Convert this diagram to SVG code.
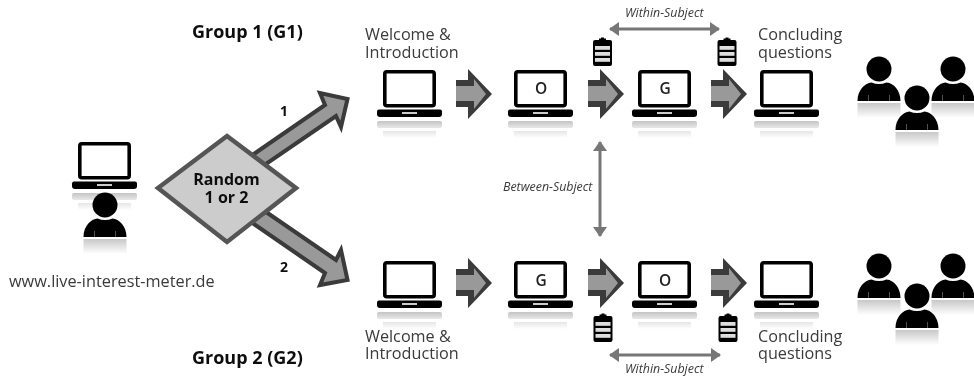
<svg xmlns="http://www.w3.org/2000/svg" xmlns:xlink="http://www.w3.org/1999/xlink" width="974" height="376" viewBox="0 0 974 376">
<style>
text{font-family:"Open Sans","DejaVu Sans",sans-serif;fill:#3a3a3a}
.lab{font-size:16.200px}
.grp{font-size:18px;font-weight:700;fill:#111}
.it{font-size:12.400px;font-style:italic}
.num{font-size:14px;font-weight:700;fill:#111}
.let{font-size:15.500px;font-weight:600;text-anchor:middle;fill:#222}
.rnd{font-size:16px;font-weight:700;text-anchor:middle;fill:#111}
.dbl{stroke:#777;stroke-width:3;fill:none;marker-start:url(#ah);marker-end:url(#ah)}
.big{fill:#999;stroke:#3a3a3a;stroke-width:4;stroke-miterlimit:6}
</style>
<defs>
<filter id="b" x="-2%" y="-2%" width="104%" height="104%"><feGaussianBlur stdDeviation="0.45"/></filter>
<marker id="ah" viewBox="0 0 10 14" refX="9" refY="7" markerWidth="10" markerHeight="14" markerUnits="userSpaceOnUse" orient="auto-start-reverse"><path d="M0 0L10 7L0 14Z" fill="#777"/></marker>
<linearGradient id="r1" x1="0" y1="0" x2="0" y2="1"><stop offset="0" stop-color="#c4c4c4"/><stop offset="1" stop-color="#e8e8e8"/></linearGradient>
<linearGradient id="r2" x1="0" y1="0" x2="0" y2="1"><stop offset="0" stop-color="#e6e6e6"/><stop offset="1" stop-color="#fff"/></linearGradient>
<linearGradient id="r3" x1="0" y1="0" x2="0" y2="1"><stop offset="0" stop-color="#c8c8c8"/><stop offset="1" stop-color="#fff"/></linearGradient>
<g id="laptop">
<rect x="7.800" y="1.800" width="49.400" height="33.900" fill="#fff" stroke="#000" stroke-width="3.600" rx="2"/>
<path d="M2 39.500H63Q65 39.500 65 41.500V44Q65 47 62 47H3Q0 47 0 44V41.500Q0 39.500 2 39.500Z" fill="#000"/>
<rect x="25" y="42" width="15" height="2" fill="#ccc"/>
<rect x="0" y="51" width="65" height="7" rx="2" fill="url(#r1)"/>
<rect x="6" y="61" width="53" height="7" fill="url(#r2)"/>
</g>
<g id="person">
<rect x="-21.500" y="34" width="43" height="15" fill="url(#r3)"/>
<circle cx="0" cy="0" r="12.500" fill="#000"/>
<path d="M-21.500 32C-21.500 21-14 14-7.500 13.500Q0 16.500 7.500 13.500C14 14 21.500 21 21.500 32Z" fill="#000"/>
<path d="M-10.500 26V32M10.500 26V32" stroke="#666" stroke-width="0.800"/>
</g>
<g id="arrow">
<path d="M0 11H12V0L36 25L12 50V38H0Z" fill="#3a3a3a"/>
<path d="M0 17H18V10L30 25L18 40V32H0Z" fill="#999"/>
</g>
<g id="clip">
<path d="M2.500 3H6.500V1.500H8.500V0.500H11.500V1.500H13.500V3H17.500Q19.500 3 19.500 5V27Q19.500 29 17.500 29H2.500Q0.500 29 0.500 27V5Q0.500 3 2.500 3Z" fill="#000"/>
<rect x="2.500" y="9" width="15" height="3.800" fill="#ddd"/><rect x="2.500" y="15" width="15" height="3.800" fill="#ddd"/><rect x="2.500" y="21" width="15" height="3.800" fill="#ddd"/>
</g>
</defs>
<rect width="974" height="376" fill="#fff"/>
<g filter="url(#b)">
<g id="connectors">
<path class="big" d="M235 167L325 105L320 93L347.500 99L341 127L336 116L250 175Z"/>
<path class="big" d="M250 201L336 260L341 250L347.500 280L320 285L325 273L235 211Z"/>
<use xlink:href="#arrow" href="#arrow" x="456" y="69"/>
<use xlink:href="#arrow" href="#arrow" x="588" y="69"/>
<use xlink:href="#arrow" href="#arrow" x="711" y="69"/>
<use xlink:href="#arrow" href="#arrow" x="456" y="258"/>
<use xlink:href="#arrow" href="#arrow" x="588" y="258"/>
<use xlink:href="#arrow" href="#arrow" x="711" y="258"/>
<path class="dbl" d="M610 29H719"/>
<path class="dbl" d="M610 355H720"/>
<path class="dbl" d="M600 142V236"/>
</g>
<g id="user"><use xlink:href="#laptop" href="#laptop" x="72" y="142"/><use xlink:href="#person" href="#person" x="105" y="205"/></g>
<g id="random"><path d="M158 188L227 136L296 188L227 242Z" fill="#ccc" stroke="#555" stroke-width="4.500"/>
<text class="rnd" x="226.500" y="185">Random</text><text class="rnd" x="226.500" y="203">1 or 2</text></g>
<g id="g1-welcome"><use xlink:href="#laptop" href="#laptop" x="377" y="70"/></g>
<g id="g1-o"><use xlink:href="#laptop" href="#laptop" x="508" y="70"/><text class="let" x="541" y="94">O</text></g>
<g id="g1-g"><use xlink:href="#laptop" href="#laptop" x="632" y="70"/><text class="let" x="665" y="94">G</text></g>
<g id="g1-end"><use xlink:href="#laptop" href="#laptop" x="754" y="70"/></g>
<g id="g2-welcome"><use xlink:href="#laptop" href="#laptop" x="377" y="261"/></g>
<g id="g2-g"><use xlink:href="#laptop" href="#laptop" x="508" y="261"/><text class="let" x="541" y="286">G</text></g>
<g id="g2-o"><use xlink:href="#laptop" href="#laptop" x="632" y="261"/><text class="let" x="665" y="286">O</text></g>
<g id="g2-end"><use xlink:href="#laptop" href="#laptop" x="754" y="261"/></g>
<g id="clips">
<use xlink:href="#clip" href="#clip" x="592.500" y="37"/><use xlink:href="#clip" href="#clip" x="717" y="37"/>
<use xlink:href="#clip" href="#clip" x="593" y="313"/><use xlink:href="#clip" href="#clip" x="718" y="313"/>
</g>
<g id="crowd1"><use xlink:href="#person" href="#person" x="879" y="69"/><use xlink:href="#person" href="#person" x="953" y="69"/><use xlink:href="#person" href="#person" x="917" y="98"/></g>
<g id="crowd2"><use xlink:href="#person" href="#person" x="879" y="266"/><use xlink:href="#person" href="#person" x="953" y="266"/><use xlink:href="#person" href="#person" x="917" y="296"/></g>
<g id="labels">
<text class="grp" x="192" y="38">Group 1 (G1)</text>
<text class="grp" x="192" y="364">Group 2 (G2)</text>
<text class="lab" x="365" y="40">Welcome &amp;<tspan x="365" y="57.500">Introduction</tspan></text>
<text class="lab" x="758" y="40">Concluding<tspan x="758" y="57.500">questions</tspan></text>
<text class="lab" x="365" y="341.500">Welcome &amp;<tspan x="365" y="359">Introduction</tspan></text>
<text class="lab" x="758" y="341.500">Concluding<tspan x="758" y="359">questions</tspan></text>
<text class="it" x="625" y="17">Within-Subject</text>
<text class="it" x="625" y="373">Within-Subject</text>
<text class="it" x="503" y="191">Between-Subject</text>
<text class="num" x="280" y="116">1</text><text class="num" x="280" y="272">2</text>
<text x="9" y="286.500" style="font-size:16.300px">www.live-interest-meter.de</text>
</g>
</g>
</svg>
